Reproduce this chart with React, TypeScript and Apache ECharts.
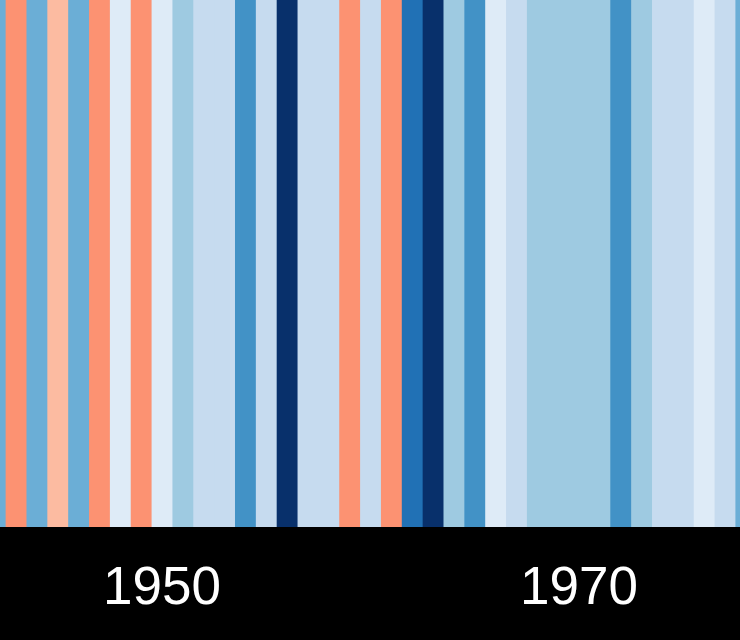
import React, { useEffect, useRef } from "react";
import * as echarts from "echarts";

// Years shown (partially cropped at both edges)
const years = [
  1942, 1943, 1944, 1945, 1946, 1947, 1948, 1949, 1950, 1951, 1952, 1953,
  1954, 1955, 1956, 1957, 1958, 1959, 1960, 1961, 1962, 1963, 1964, 1965,
  1966, 1967, 1968, 1969, 1970, 1971, 1972, 1973, 1974, 1975, 1976, 1977,
  1978,
];
// Estimated temperature anomalies (°C) read from stripe colours
const anomalies = [
  -0.25, 0.1, -0.25, 0.05, -0.25, 0.1, -0.1, 0.1, -0.1, -0.2, -0.15, -0.15,
  -0.3, -0.15, -0.45, -0.15, -0.15, 0.1, -0.15, 0.1, -0.35, -0.45, -0.2, -0.3,
  -0.1, -0.15, -0.2, -0.2, -0.2, -0.2, -0.3, -0.2, -0.15, -0.15, -0.1, -0.15,
  -0.25,
];
// Tick labels
const tickYears = [1950, 1970];

// Colour scale (ColorBrewer blues / reds), bin centres
const binCentres = [
  -0.45, -0.4, -0.35, -0.3, -0.25, -0.2, -0.15, -0.1, -0.05, 0.0, 0.05, 0.1,
  0.15, 0.2, 0.25, 0.3,
];
const binColors = [
  "#08306b", "#08519c", "#2171b5", "#4292c6", "#6baed6", "#9ecae1",
  "#c6dbef", "#deebf7", "#f7fbff", "#fee0d2", "#fcbba1", "#fc9272",
  "#fb6a4a", "#ef3b2c", "#cb181d", "#a50f15",
];

export default function App() {
  const ref = useRef<HTMLDivElement>(null);

  useEffect(() => {
    if (!ref.current) return;
    const chart = echarts.init(ref.current, null, { renderer: "svg" });

    const pieces = binCentres.map((c, i) => ({
      gte: i === 0 ? -10 : c - 0.025,
      lt: i === binCentres.length - 1 ? 10 : c + 0.025,
      color: binColors[i],
    }));

    const data = years.map((y, i) => [y, anomalies[i]]);

    chart.setOption({
      animation: false,
      backgroundColor: "#000000",
      grid: { left: 0, right: 0, top: 0, bottom: 113 },
      visualMap: {
        show: false,
        type: "piecewise",
        dimension: 1,
        seriesIndex: 0,
        pieces,
      },
      xAxis: {
        type: "value",
        min: 1942.23,
        max: 1977.72,
        axisLine: { show: false },
        axisTick: { show: false },
        splitLine: { show: false },
        axisLabel: {
          customValues: tickYears,
          color: "#ffffff",
          fontSize: 53,
          fontFamily: "'Liberation Sans', Arial, sans-serif",
          verticalAlign: "middle",
          margin: 58,
          formatter: (v: number) => String(v),
        },
      },
      yAxis: {
        type: "value",
        min: 0,
        max: 1,
        show: false,
      },
      series: [
        {
          type: "custom",
          clip: true,
          data,
          encode: { x: 0, y: 1 },
          renderItem: (params: any, api: any) => {
            const yr = api.value(0);
            const p0 = api.coord([yr - 0.5, 1]);
            const p1 = api.coord([yr + 0.5, 0]);
            return {
              type: "rect",
              shape: {
                x: p0[0],
                y: p0[1],
                width: p1[0] - p0[0] + 1.5,
                height: p1[1] - p0[1],
              },
              style: { fill: api.visual("color") },
            };
          },
        },
      ],
    });

    return () => chart.dispose();
  }, []);

  return (
    <div
      ref={ref}
      style={{ position: "fixed", left: 0, top: 0, width: 740, height: 640 }}
    />
  );
}
